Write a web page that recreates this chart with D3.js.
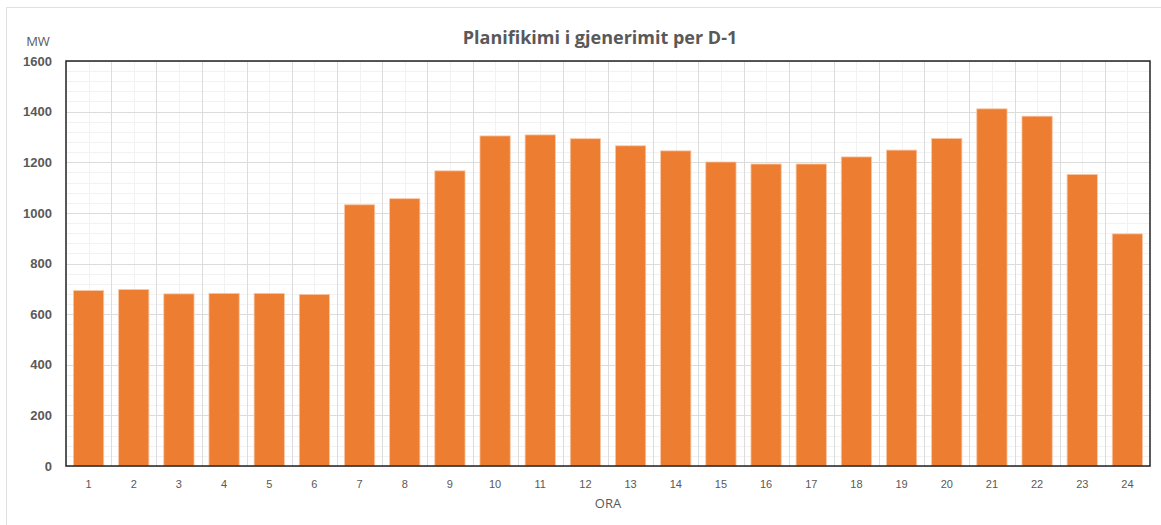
<!DOCTYPE html>
<html>
<head>
<meta charset="utf-8">
<script src="https://cdn.jsdelivr.net/npm/d3@7"></script>
<style>
  body { margin: 0; background: #fff; }
  svg { display: block; font-family: "Open Sans", "Noto Sans", sans-serif; }
</style>
</head>
<body>
<div id="chart"></div>
<script>
// data
var hours = ["1","2","3","4","5","6","7","8","9","10","11","12","13","14","15","16","17","18","19","20","21","22","23","24"];
var mw = [693, 697, 680, 682, 682, 678, 1032, 1056, 1166, 1304, 1308, 1293, 1265, 1245, 1201, 1193, 1193, 1221, 1248, 1294, 1411, 1382, 1152, 917];
var yTicks = [0, 200, 400, 600, 800, 1000, 1200, 1400, 1600];

var W = 1161, H = 525;
var margin = {top: 61, right: 11, bottom: 59, left: 66},
    width = W - margin.left - margin.right,
    height = H - margin.top - margin.bottom;

var svg = d3.select("#chart").append("svg")
    .attr("width", W)
    .attr("height", H);

// outer chart frame
svg.append("rect")
    .attr("x", 6.5).attr("y", 7.5)
    .attr("width", W).attr("height", H)
    .attr("fill", "none")
    .attr("stroke", "#e0e0e0");

var g = svg.append("g")
    .attr("transform", "translate(" + margin.left + "," + margin.top + ")");

var x = d3.scaleBand()
    .domain(hours)
    .range([0, width])
    .paddingInner(0.33)
    .paddingOuter(0.165);

var y = d3.scaleLinear()
    .domain([0, 1600])
    .range([height, 0]);

// minor horizontal grid (every 40 MW)
g.append("g").selectAll("line")
    .data(d3.range(0, 1601, 40).filter(function(v) { return v % 200 !== 0; }))
    .enter().append("line")
    .attr("x1", 0).attr("x2", width)
    .attr("y1", function(d) { return Math.round(y(d)) + 0.5; })
    .attr("y2", function(d) { return Math.round(y(d)) + 0.5; })
    .attr("stroke", "#f2f2f2");

// minor vertical grid at category centres
g.append("g").selectAll("line")
    .data(hours)
    .enter().append("line")
    .attr("x1", function(d) { return Math.round(x(d) + x.bandwidth() / 2) + 0.5; })
    .attr("x2", function(d) { return Math.round(x(d) + x.bandwidth() / 2) + 0.5; })
    .attr("y1", 0).attr("y2", height)
    .attr("stroke", "#f2f2f2");

// major horizontal grid
g.append("g").selectAll("line")
    .data(yTicks)
    .enter().append("line")
    .attr("x1", 0).attr("x2", width)
    .attr("y1", function(d) { return Math.round(y(d)) + 0.5; })
    .attr("y2", function(d) { return Math.round(y(d)) + 0.5; })
    .attr("stroke", "#dcdcdc");

// major vertical grid at category boundaries
g.append("g").selectAll("line")
    .data(d3.range(1, hours.length))
    .enter().append("line")
    .attr("x1", function(i) { return Math.round(i * width / hours.length) + 0.5; })
    .attr("x2", function(i) { return Math.round(i * width / hours.length) + 0.5; })
    .attr("y1", 0).attr("y2", height)
    .attr("stroke", "#dcdcdc");

// bars
g.append("g").selectAll("rect")
    .data(mw)
    .enter().append("rect")
    .attr("x", function(d, i) { return x(hours[i]); })
    .attr("y", function(d) { return y(d); })
    .attr("width", x.bandwidth())
    .attr("height", function(d) { return height - y(d); })
    .attr("fill", "#ed7d31")
    .attr("stroke", "#f8c7a6")
    .attr("stroke-width", 0.8);

// plot area border
g.append("rect")
    .attr("x", 0).attr("y", 0)
    .attr("width", width).attr("height", height)
    .attr("fill", "none")
    .attr("stroke", "#222")
    .attr("stroke-width", 1.5);

// y axis labels
var yAxis = g.append("g")
    .call(d3.axisLeft(y).tickValues(yTicks).tickFormat(d3.format("d")).tickSize(0).tickPadding(14));
yAxis.select(".domain").remove();
yAxis.selectAll("text")
    .style("font-size", "13px")
    .style("font-weight", "bold")
    .attr("fill", "#595959");

// x axis labels
var xAxis = g.append("g")
    .attr("transform", "translate(0," + height + ")")
    .call(d3.axisBottom(x).tickSize(0).tickPadding(14));
xAxis.select(".domain").remove();
xAxis.selectAll("text")
    .style("font-size", "11px")
    .attr("fill", "#595959");

// title
svg.append("text")
    .attr("x", 600)
    .attr("y", 44)
    .attr("text-anchor", "middle")
    .style("font-size", "18px")
    .style("font-weight", "bold")
    .attr("fill", "#595959")
    .text("Planifikimi i gjenerimit per D-1");

// unit label
svg.append("text")
    .attr("x", 38)
    .attr("y", 46)
    .attr("text-anchor", "middle")
    .style("font-size", "13px")
    .attr("fill", "#595959")
    .text("MW");

// x axis title
svg.append("text")
    .attr("x", margin.left + width / 2)
    .attr("y", 508)
    .attr("text-anchor", "middle")
    .style("font-size", "13px")
    .attr("fill", "#595959")
    .text("ORA");
</script>
</body>
</html>
